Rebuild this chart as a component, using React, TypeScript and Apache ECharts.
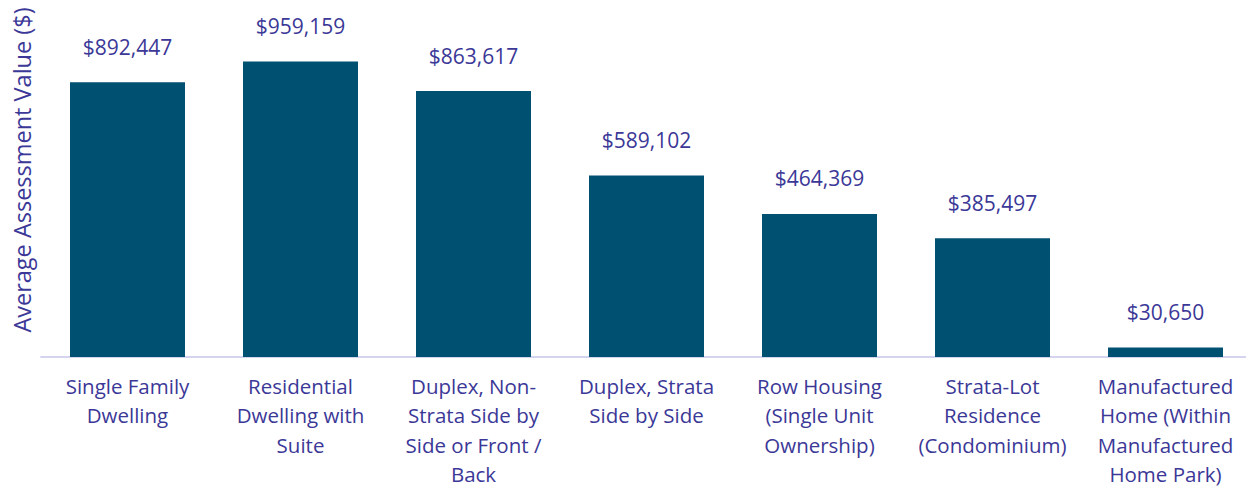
import React, { useEffect, useRef } from "react";
import * as echarts from "echarts";

const categories = [
  "Single Family\nDwelling",
  "Residential\nDwelling with\nSuite",
  "Duplex, Non-\nStrata Side by\nSide or Front /\nBack",
  "Duplex, Strata\nSide by Side",
  "Row Housing\n(Single Unit\nOwnership)",
  "Strata-Lot\nResidence\n(Condominium)",
  "Manufactured\nHome (Within\nManufactured\nHome Park)",
];
const values = [892447, 959159, 863617, 589102, 464369, 385497, 30650];
const yAxisTitle = "Average Assessment Value ($)";

const TEXT = "#3b3897";
const BAR = "#005072";
const FONT = "'Open Sans', 'Noto Sans', sans-serif";

export default function App() {
  const ref = useRef<HTMLDivElement>(null);
  useEffect(() => {
    if (!ref.current) return;
    const chart = echarts.init(ref.current, undefined, { renderer: "svg" });
    chart.setOption({
      animation: false,
      grid: {
        left: 41,
        top: 49,
        width: 1211,
        bottom: 129,
        containLabel: false,
        outerBoundsMode: "none",
      },
      xAxis: {
        type: "category",
        data: categories,
        axisLine: { lineStyle: { color: "#d4d4ee", width: 2 } },
        axisTick: { show: false },
        axisLabel: {
          color: TEXT,
          fontFamily: FONT,
          fontSize: 20.5,
          lineHeight: 29.5,
          margin: 14,
          interval: 0,
        },
      },
      yAxis: {
        type: "value",
        min: 0,
        max: 1000000,
        show: false,
        splitLine: { show: false },
      },
      graphic: [
        {
          type: "text",
          x: 22,
          y: 170,
          rotation: Math.PI / 2,
          style: {
            text: yAxisTitle,
            fill: TEXT,
            font: `23.5px ${FONT}`,
            textAlign: "center",
            textVerticalAlign: "middle",
          },
        },
      ],
      series: [
        {
          type: "bar",
          data: values,
          barWidth: 115,
          itemStyle: { color: BAR },
          label: {
            show: true,
            position: "top",
            distance: 25,
            color: TEXT,
            fontFamily: FONT,
            fontSize: 21,
            formatter: (p: any) => "$" + Number(p.value).toLocaleString("en-US"),
          },
        },
      ],
    });
    return () => chart.dispose();
  }, []);
  return (
    <div
      ref={ref}
      style={{ position: "fixed", left: 0, top: 0, width: 1246, height: 486, background: "#fff" }}
    />
  );
}
